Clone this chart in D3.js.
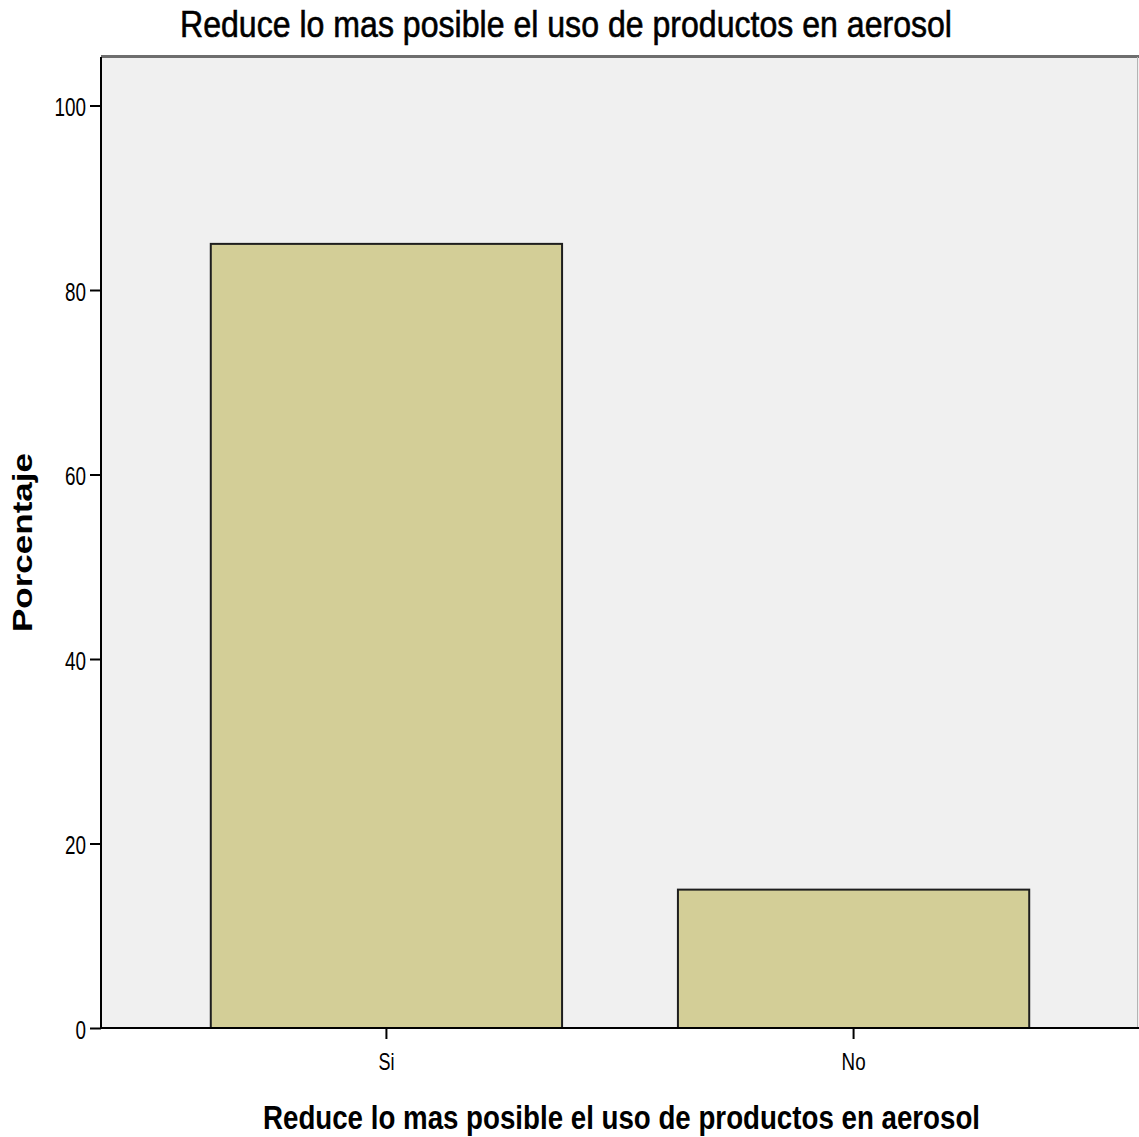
<!DOCTYPE html>
<html>
<head>
<meta charset="utf-8">
<script src="https://cdn.jsdelivr.net/npm/d3@7"></script>
<style>
  html, body { margin: 0; padding: 0; background: #ffffff; }
  svg { display: block; }
  text { font-family: "Liberation Sans", Arial, sans-serif; fill: #000; }
</style>
</head>
<body>
<svg id="chart" width="1139" height="1137"></svg>
<script>
const categories = ["Si", "No"];
const values = [85, 15];
const yTicks = [0, 20, 40, 60, 80, 100];
const titleText = "Reduce lo mas posible el uso de productos en aerosol";
const xTitleText = "Reduce lo mas posible el uso de productos en aerosol";
const yTitleText = "Porcentaje";

const svg = d3.select("#chart");
const plot = { left: 101, right: 1139, top: 57, bottom: 1028 };

const x = d3.scaleBand()
  .domain(categories)
  .range([plot.left, plot.right])
  .paddingInner(0.248)
  .paddingOuter(0.235);

const y = d3.scaleLinear()
  .domain([0, 100])
  .range([plot.bottom, 105.5]);

// Plot background
svg.append("rect")
  .attr("x", plot.left).attr("y", plot.top)
  .attr("width", plot.right - plot.left)
  .attr("height", plot.bottom - plot.top)
  .attr("fill", "#f0f0f0");

// frame: top (dark gray) and right (light gray)
svg.append("line")
  .attr("x1", plot.left).attr("x2", plot.right)
  .attr("y1", plot.top - 0.5).attr("y2", plot.top - 0.5)
  .attr("stroke", "#6e6e6e").attr("stroke-width", 3);
svg.append("line")
  .attr("x1", plot.right - 1.5).attr("x2", plot.right - 1.5)
  .attr("y1", plot.top).attr("y2", plot.bottom)
  .attr("stroke", "#b4b4b4").attr("stroke-width", 1);

// Bars
svg.append("g").selectAll("rect")
  .data(categories.map((c, i) => ({ c, v: values[i] })))
  .join("rect")
  .attr("x", d => x(d.c))
  .attr("y", d => y(d.v))
  .attr("width", x.bandwidth())
  .attr("height", d => y(0) - y(d.v))
  .attr("fill", "#d3ce97")
  .attr("stroke", "#1e1e1e")
  .attr("stroke-width", 2);

// Y axis
const yAxis = svg.append("g")
  .attr("transform", `translate(${plot.left},0)`)
  .call(d3.axisLeft(y).tickValues(yTicks).tickSize(11).tickPadding(4).tickSizeOuter(0));
yAxis.select(".domain").attr("stroke", "#000").attr("stroke-width", 2)
  .attr("d", `M0,${plot.top}V${plot.bottom}`);
yAxis.selectAll(".tick line").attr("stroke", "#000").attr("stroke-width", 2);
yAxis.selectAll(".tick text")
  .attr("font-size", 25)
  .attr("dy", "0.4em")
  .attr("textLength", d => String(d).length * 10.5)
  .attr("lengthAdjust", "spacingAndGlyphs")
  .style("font-family", "'Liberation Sans', Arial, sans-serif")
  .attr("fill", "#000");

// X axis
const xAxis = svg.append("g")
  .attr("transform", `translate(0,${plot.bottom})`)
  .call(d3.axisBottom(x).tickSize(11).tickPadding(6).tickSizeOuter(0));
xAxis.select(".domain").attr("stroke", "#000").attr("stroke-width", 2)
  .attr("d", `M${plot.left},0H${plot.right}`);
xAxis.selectAll(".tick line").attr("stroke", "#000").attr("stroke-width", 2);
xAxis.selectAll(".tick text")
  .attr("font-size", 24)
  .attr("y", 0)
  .attr("dy", 42)
  .attr("textLength", d => d === "Si" ? 16 : 24)
  .attr("lengthAdjust", "spacingAndGlyphs")
  .style("font-family", "'Liberation Sans', Arial, sans-serif")
  .attr("fill", "#000");

// Title
svg.append("text")
  .attr("x", 180).attr("y", 37)
  .attr("font-size", 36)
  .attr("text-anchor", "start")
  .attr("textLength", 772)
  .attr("lengthAdjust", "spacingAndGlyphs")
  .attr("stroke", "#000").attr("stroke-width", 0.6)
  .text(titleText);

// X axis title
svg.append("text")
  .attr("x", 263).attr("y", 1129)
  .attr("font-size", 33)
  .attr("font-weight", "bold")
  .attr("text-anchor", "start")
  .attr("textLength", 717)
  .attr("lengthAdjust", "spacingAndGlyphs")
  .text(xTitleText);

// Y axis title
svg.append("text")
  .attr("transform", "translate(32,632) rotate(-90)")
  .attr("x", 0).attr("y", 0)
  .attr("font-size", 28)
  .attr("font-weight", "bold")
  .attr("text-anchor", "start")
  .attr("textLength", 179)
  .attr("lengthAdjust", "spacingAndGlyphs")
  .text(yTitleText);
</script>
</body>
</html>
